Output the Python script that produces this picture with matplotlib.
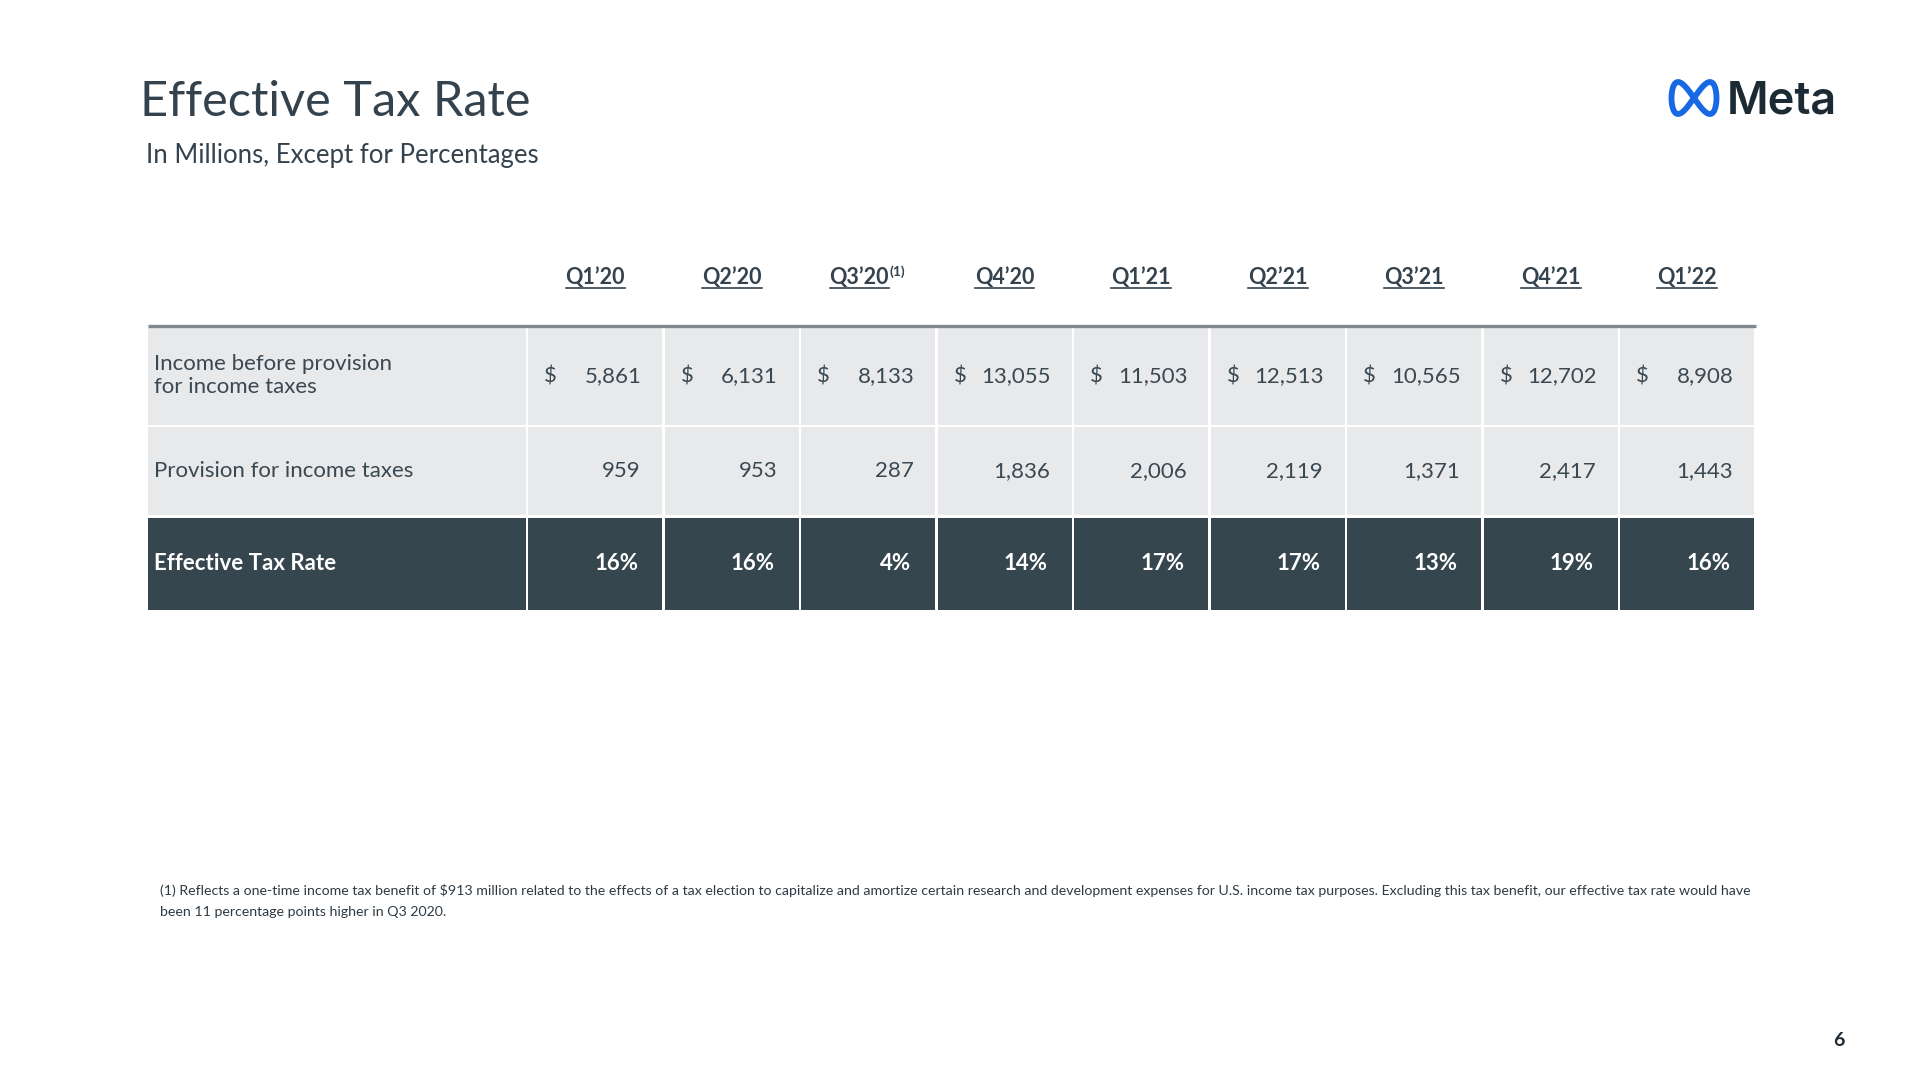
import numpy as np
import matplotlib
matplotlib.use("Agg")
import matplotlib.pyplot as plt
from matplotlib.patches import Rectangle

# table values (in millions, except percentages)
quarters = ["Q1’20", "Q2’20", "Q3’20", "Q4’20", "Q1’21", "Q2’21", "Q3’21", "Q4’21", "Q1’22"]
income_before_tax = [5861, 6131, 8133, 13055, 11503, 12513, 10565, 12702, 8908]
provision = [959, 953, 287, 1836, 2006, 2119, 1371, 2417, 1443]
tax_rate = [16, 16, 4, 14, 17, 17, 13, 19, 16]
row_labels = ["Income before provision\nfor income taxes", "Provision for income taxes", "Effective Tax Rate"]
footnote_col = "Q3’20"
footnote = ["(1) Reflects a one-time income tax benefit of $913 million related to the effects of a tax election to "
            "capitalize and amortize certain research and development expenses for U.S. income tax purposes. "
            "Excluding this tax benefit, our effective tax rate would have",
            "been 11 percentage points higher in Q3 2020."]

plt.rcParams["font.family"] = ["Lato", "DejaVu Sans"]
DARK, LIGHT, TXT = "#36464f", "#e8e9ea", "#3a4852"

fig = plt.figure(figsize=(19.2, 10.8), dpi=100)
ax = fig.add_axes([0, 0, 1, 1])
ax.set_xlim(0, 1920); ax.set_ylim(1080, 0); ax.axis("off")

# header block
ax.text(140, 116, "Effective Tax Rate", fontsize=35, color="#33424d", va="baseline")
ax.text(146, 162.5, "In Millions, Except for Percentages", fontsize=18.5, color="#33424d", va="baseline")

# meta logo
t = np.linspace(0, 2 * np.pi, 400)
ax.plot(1694 + 22.5 * np.sin(t), 98 + 16 * np.sin(2 * t), color="#1668e3", lw=4.2, solid_capstyle="round")
ax.text(1727, 113, "Meta", fontsize=32.5, color="#1c2b33", weight="semibold", va="baseline",
        family=["Inter", "DejaVu Sans"])

# table geometry
x0, label_w, col_w = 148, 379, 136.5
tops, bots = [328, 427, 518], [425, 515, 610]
gap = 1.3
pads = [22, 23, 25]
col_left = [x0 + label_w + i * col_w for i in range(len(quarters))]
x_end = col_left[-1] + col_w

ax.plot([x0, x_end], [326, 326], color="#80898f", lw=2.4, solid_capstyle="butt")

rows = [[f"{v:,}" for v in income_before_tax], [f"{v:,}" for v in provision], [f"{v}%" for v in tax_rate]]
fig.canvas.draw()
r = fig.canvas.get_renderer()
inv = ax.transData.inverted()

for j, q in enumerate(quarters):
    cx = col_left[j] + col_w / 2
    shift = 9 if q == footnote_col else 0
    h = ax.text(cx - shift, 284, q, fontsize=15.5, weight="bold", color="#33424d", ha="center", va="baseline")
    bb = h.get_window_extent(r)
    (ux0, _), (ux1, _) = inv.transform([(bb.x0, 0), (bb.x1, 0)])
    ax.plot([ux0, ux1], [288, 288], color="#33424d", lw=1.2)
    if q == footnote_col:
        ax.text(ux1 + 0.5, 265, "(1)", fontsize=10, weight="bold", color="#33424d", ha="left", va="top")

for i in range(3):
    dark = i == 2
    fc = DARK if dark else LIGHT
    tc = "white" if dark else TXT
    top, bot = tops[i], bots[i]
    mid = (top + bot) / 2
    ax.add_patch(Rectangle((x0, top), label_w - gap, bot - top, fc=fc, lw=0))
    ax.text(x0 + 6, mid + (0 if i else -1), row_labels[i], fontsize=16, color=tc, va="center",
            weight="bold" if dark else "normal", linespacing=1.2)
    for j in range(len(quarters)):
        ax.add_patch(Rectangle((col_left[j] + gap, top), col_w - 2 * gap, bot - top, fc=fc, lw=0))
        ax.text(col_left[j] + col_w - pads[i], mid, rows[i][j], fontsize=16, color=tc, ha="right", va="center",
                weight="bold" if dark else "normal")
        if i == 0:
            ax.text(col_left[j] + 17, mid, "$", fontsize=16, color=tc, ha="left", va="center")

ax.text(160, 895, footnote[0], fontsize=10.15, color="#2f3b44", va="baseline")
ax.text(160, 916, footnote[1], fontsize=10.15, color="#2f3b44", va="baseline")
ax.text(1839, 1040, "6", fontsize=14, weight="bold", color="#1f2a33", ha="center", va="center")

fig.savefig("out.png", dpi=100, facecolor="white")
